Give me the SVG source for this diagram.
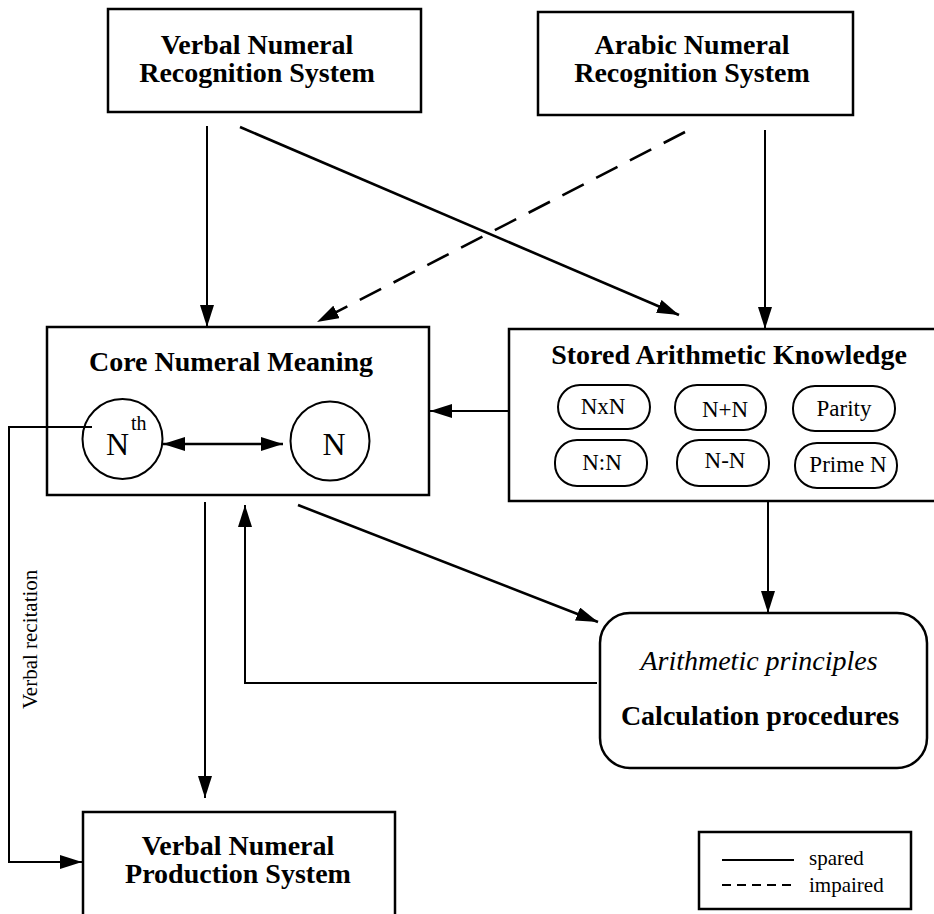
<svg xmlns="http://www.w3.org/2000/svg" width="934" height="914" viewBox="0 0 934 914">
<style>
  .box { fill: #fff; stroke: #000; stroke-width: 2.5; }
  .pill { fill: none; stroke: #000; stroke-width: 2; }
  .t { font-family: "Liberation Serif", "Times New Roman", serif; fill: #000; }
  .b { font-weight: bold; font-size: 28px; }
  .pt { font-size: 23px; }
  .ln { fill: none; stroke: #000; stroke-width: 2; }
  .lnt { fill: none; stroke: #000; stroke-width: 2.6; }
  .dash { stroke-dasharray: 24 14; }
</style>
<defs>
  <marker id="ah" viewBox="0 0 22 14" refX="22" refY="7" markerWidth="22" markerHeight="14" markerUnits="userSpaceOnUse" orient="auto-start-reverse">
    <path d="M0,0 L22,7 L0,14 z" fill="#000"/>
  </marker>
</defs>

<g id="verbal-recognition">
  <rect class="box" x="108" y="9" width="313" height="103"/>
  <text class="t b" x="257" y="54" text-anchor="middle">Verbal Numeral</text>
  <text class="t b" x="257" y="82" text-anchor="middle">Recognition System</text>
</g>

<g id="arabic-recognition">
  <rect class="box" x="538" y="12" width="315" height="103"/>
  <text class="t b" x="692" y="54" text-anchor="middle">Arabic Numeral</text>
  <text class="t b" x="692" y="82" text-anchor="middle">Recognition System</text>
</g>

<g id="core-meaning">
  <rect class="box" x="47" y="327" width="382" height="168"/>
  <text class="t b" x="231" y="371" text-anchor="middle">Core Numeral Meaning</text>
  <g id="nth">
    <circle cx="122.5" cy="439" r="40" fill="none" stroke="#000" stroke-width="2"/>
    <text class="t" font-size="32" x="106" y="455">N</text>
    <text class="t" font-size="20" x="131" y="430">th</text>
  </g>
  <g id="n">
    <circle cx="330" cy="441" r="39.5" fill="none" stroke="#000" stroke-width="2"/>
    <text class="t" font-size="32" x="334" y="455" text-anchor="middle">N</text>
  </g>
</g>

<g id="stored-knowledge">
  <rect class="box" x="509" y="329" width="440" height="172"/>
  <text class="t b" x="729" y="364" text-anchor="middle">Stored Arithmetic Knowledge</text>
  <g id="pill-nxn"><rect class="pill" x="558" y="385" width="92" height="44" rx="22"/><text class="t pt" x="603" y="414" text-anchor="middle">NxN</text></g>
  <g id="pill-nplusn"><rect class="pill" x="675" y="385" width="91" height="45" rx="22"/><text class="t pt" x="725" y="417" text-anchor="middle">N+N</text></g>
  <g id="pill-parity"><rect class="pill" x="793" y="386" width="102" height="45" rx="22"/><text class="t pt" x="844" y="416" text-anchor="middle">Parity</text></g>
  <g id="pill-ndivn"><rect class="pill" x="555" y="440" width="92" height="46" rx="22"/><text class="t pt" x="602" y="470" text-anchor="middle">N:N</text></g>
  <g id="pill-nminusn"><rect class="pill" x="677" y="440" width="92" height="46" rx="22"/><text class="t pt" x="725" y="468" text-anchor="middle">N-N</text></g>
  <g id="pill-prime"><rect class="pill" x="795" y="443" width="102" height="45" rx="22"/><text class="t pt" x="848" y="472" text-anchor="middle">Prime N</text></g>
</g>

<g id="calculation">
  <rect class="box" x="600" y="613" width="327" height="155" rx="30"/>
  <text class="t" font-size="28" font-style="italic" x="759" y="670" text-anchor="middle">Arithmetic principles</text>
  <text class="t b" x="760" y="725" text-anchor="middle">Calculation procedures</text>
</g>

<g id="verbal-production">
  <rect class="box" x="83" y="812" width="312" height="112"/>
  <text class="t b" x="238" y="855" text-anchor="middle">Verbal Numeral</text>
  <text class="t b" x="238" y="883" text-anchor="middle">Production System</text>
</g>

<g id="legend">
  <rect class="box" x="699" y="832" width="212" height="77"/>
  <line x1="722" y1="860" x2="794" y2="860" stroke="#000" stroke-width="2"/>
  <line x1="722" y1="885" x2="794" y2="885" stroke="#000" stroke-width="2" stroke-dasharray="9 6"/>
  <text class="t" font-size="21" x="809" y="865">spared</text>
  <text class="t" font-size="21" x="809" y="892">impaired</text>
</g>

<g id="connectors">
  <line class="ln" x1="207" y1="126" x2="207" y2="327" marker-end="url(#ah)"/>
  <line class="lnt" x1="240" y1="127" x2="679" y2="315" marker-end="url(#ah)"/>
  <line class="lnt dash" x1="685" y1="132" x2="317" y2="322" marker-end="url(#ah)"/>
  <line class="ln" x1="765" y1="130" x2="765" y2="329" marker-end="url(#ah)"/>
  <line class="ln" x1="509" y1="411" x2="430" y2="411" marker-end="url(#ah)"/>
  <line class="ln" x1="768" y1="501" x2="768" y2="613" marker-end="url(#ah)"/>
  <line class="ln" x1="205" y1="502" x2="205" y2="798" marker-end="url(#ah)"/>
  <polyline class="ln" points="597,683 245,683 245,505" marker-end="url(#ah)"/>
  <line class="lnt" x1="298" y1="505" x2="598" y2="622" marker-end="url(#ah)"/>
  <line class="lnt" x1="163" y1="444" x2="283" y2="444" marker-start="url(#ah)" marker-end="url(#ah)"/>
  <polyline class="ln" points="92,427 9,427 9,862 82,862" marker-end="url(#ah)"/>
  <text class="t" font-size="21" transform="translate(37,709) rotate(-90)">Verbal recitation</text>
</g>
</svg>
